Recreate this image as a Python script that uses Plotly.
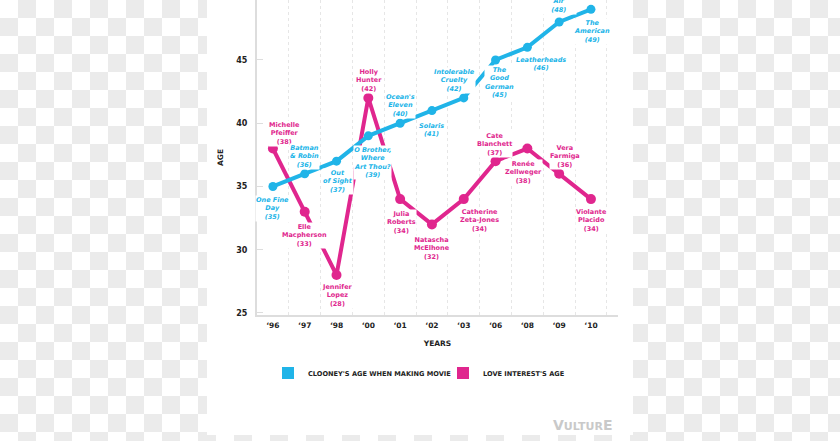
import plotly.graph_objects as go

# ---------------- data ----------------
years = ["‘96", "‘97", "‘98", "‘00", "‘01", "‘02", "‘03", "‘06", "‘08", "‘09", "‘10"]
clooney_age = [35, 36, 37, 39, 40, 41, 42, 45, 46, 48, 49]
love_age = [38, 33, 28, 42, 34, 32, 34, 37, 38, 36, 34]
movies = ["One Fine<br>Day", "Batman<br>& Robin", "Out<br>of Sight",
          "O Brother,<br>Where<br>Art Thou?", "Ocean's<br>Eleven", "Solaris",
          "Intolerable<br>Cruelty", "The<br>Good<br>German", "Leatherheads",
          "Up in the<br>Air", "The<br>American"]
actresses = ["Michelle<br>Pfeiffer", "Elle<br>Macpherson", "Jennifer<br>Lopez",
             "Holly<br>Hunter", "Julia<br>Roberts", "Natascha<br>McElhone",
             "Catherine<br>Zeta-Jones", "Cate<br>Blanchett", "Renée<br>Zellweger",
             "Vera<br>Farmiga", "Violante<br>Placido"]
y_ticks = [25, 30, 35, 40, 45]
series_names = ["CLOONEY'S AGE WHEN MAKING MOVIE", "LOVE INTEREST'S AGE"]

# ---------------- style ----------------
BLUE = "#20b4e8"
PINK = "#e0268e"
FONT = "DejaVu Sans"
W, H = 840, 441
L, R, T, B = 257, 222, 0, 126
PW, PH = W - L - R, H - T - B

# label offsets (pixels) relative to their point
blue_off = [(0, -22), (0, 17), (1, -20), (4, -27), (0, 18), (0, -19),
            (-9, 17), (4, -23), (14, -17), (0, 21), (1, -22)]
pink_off = [(12, 15), (0, -24), (1, -20), (1, 17), (1, -23), (0, -24),
            (16, -21), (-1, 17), (-4, -24), (6, 17), (1, -21)]


def px2paper(px, py):
    return (px - L) / PW, (PH - (py - T)) / PH


xs = list(range(len(years)))

fig = go.Figure()
fig.add_trace(go.Scatter(x=xs, y=love_age, mode="lines+markers",
                         line=dict(color=PINK, width=4),
                         marker=dict(color=PINK, size=10),
                         showlegend=False, hoverinfo="skip"))
fig.add_trace(go.Scatter(x=xs, y=clooney_age, mode="lines+markers",
                         line=dict(color=BLUE, width=4),
                         marker=dict(color=BLUE, size=9),
                         showlegend=False, hoverinfo="skip"))
# legend entries (squares), one legend each so they can be placed
for name, col, lg in zip(series_names, [BLUE, PINK], ["legend", "legend2"]):
    fig.add_trace(go.Scatter(x=[None], y=[None], mode="markers", name=name,
                             legend=lg,
                             marker=dict(color=col, size=12, symbol="square")))

annots = []
for i, (lab, v) in enumerate(zip(actresses, love_age)):
    dx, dy = pink_off[i]
    annots.append(dict(x=i, y=v, xref="x", yref="y", showarrow=False,
                       text=f"{lab}<br>({v})", xshift=dx, yshift=dy,
                       font=dict(family=FONT, size=6.5, color=PINK, weight="bold"),
                       bgcolor="white", borderpad=0, align="center"))
for i, (lab, v) in enumerate(zip(movies, clooney_age)):
    dx, dy = blue_off[i]
    annots.append(dict(x=i, y=v, xref="x", yref="y", showarrow=False,
                       text=f"<i>{lab}<br>({v})</i>", xshift=dx, yshift=dy,
                       font=dict(family=FONT, size=6.5, color=BLUE, weight="bold"),
                       bgcolor="white", borderpad=0, align="center"))
# watermark
wx, wy = px2paper(614, 425)
annots.append(dict(x=wx, y=wy, xref="paper", yref="paper",
                   xanchor="right", yanchor="middle", showarrow=False,
                   text="V<span style='font-size:11px'>ULTUR</span>E",
                   font=dict(family=FONT, size=14, color="#c9c9c9", weight="bold")))

# checkerboard backdrop outside the white panel
shapes = []
CELL = 18
PANEL = (207, 633, 0, 435)  # x0, x1, y0, y1 in px
for r in range(0, H // CELL + 1):
    for c in range(0, W // CELL + 1):
        if (r + c) % 2 == 0:
            continue
        x0, x1, y0, y1 = c * CELL, (c + 1) * CELL, r * CELL, (r + 1) * CELL
        pieces = []
        if x0 < PANEL[0]:
            pieces.append((x0, min(x1, PANEL[0]), y0, y1))
        if x1 > PANEL[1]:
            pieces.append((max(x0, PANEL[1]), x1, y0, y1))
        if y1 > PANEL[3] and x1 > PANEL[0] and x0 < PANEL[1]:
            pieces.append((max(x0, PANEL[0]), min(x1, PANEL[1]), max(y0, PANEL[3]), y1))
        for a0, a1, b0, b1 in pieces:
            p0 = px2paper(a0, b1)
            p1 = px2paper(a1, b0)
            shapes.append(dict(type="rect", xref="paper", yref="paper",
                               x0=p0[0], y0=p0[1], x1=p1[0], y1=p1[1],
                               fillcolor="#ebebeb", line=dict(width=0), layer="below"))

leg_font = dict(family=FONT, size=6.6, color="#222", weight="bold")
lx1, ly = px2paper(268, 373)
lx2, _ = px2paper(443, 373)

fig.update_layout(
    width=W, height=H,
    margin=dict(l=L, r=R, t=T, b=B),
    paper_bgcolor="white", plot_bgcolor="white",
    annotations=annots, shapes=shapes,
    legend=dict(orientation="h", x=lx1, xanchor="left", y=ly, yanchor="middle",
                font=leg_font, itemwidth=30, bgcolor="rgba(0,0,0,0)"),
    legend2=dict(orientation="h", x=lx2, xanchor="left", y=ly, yanchor="middle",
                 font=leg_font, itemwidth=30, bgcolor="rgba(0,0,0,0)"),
    xaxis=dict(range=[-0.5, 10.85], tickmode="array", tickvals=xs, ticktext=years,
               showgrid=False, zeroline=False, showline=True, linecolor="#dddddd",
               linewidth=2, ticks="", ticklabelstandoff=2,
               tickfont=dict(family=FONT, size=7.5, color="#222", weight="bold"),
               minor=dict(tickmode="array", tickvals=[i + 0.5 for i in xs],
                          showgrid=True, gridcolor="#e6e6e6", griddash="dot",
                          gridwidth=1, ticks=""),
               title=dict(text="YEARS", standoff=12,
                          font=dict(family=FONT, size=7.5, color="#222", weight="bold"))),
    yaxis=dict(range=[24.84, 49.74], tickmode="array", tickvals=y_ticks,
               showgrid=False, zeroline=False, showline=True, linecolor="#dddddd",
               linewidth=2, ticks="inside", ticklen=6, tickcolor="#dddddd",
               ticklabelstandoff=6,
               tickfont=dict(family=FONT, size=8, color="#222", weight="bold"),
               title=dict(text="AGE", standoff=12,
                          font=dict(family=FONT, size=7.5, color="#222", weight="bold"))),
)

fig.write_html("out.html", config={"displayModeBar": False},
               post_script="document.body.style.margin='0';")
